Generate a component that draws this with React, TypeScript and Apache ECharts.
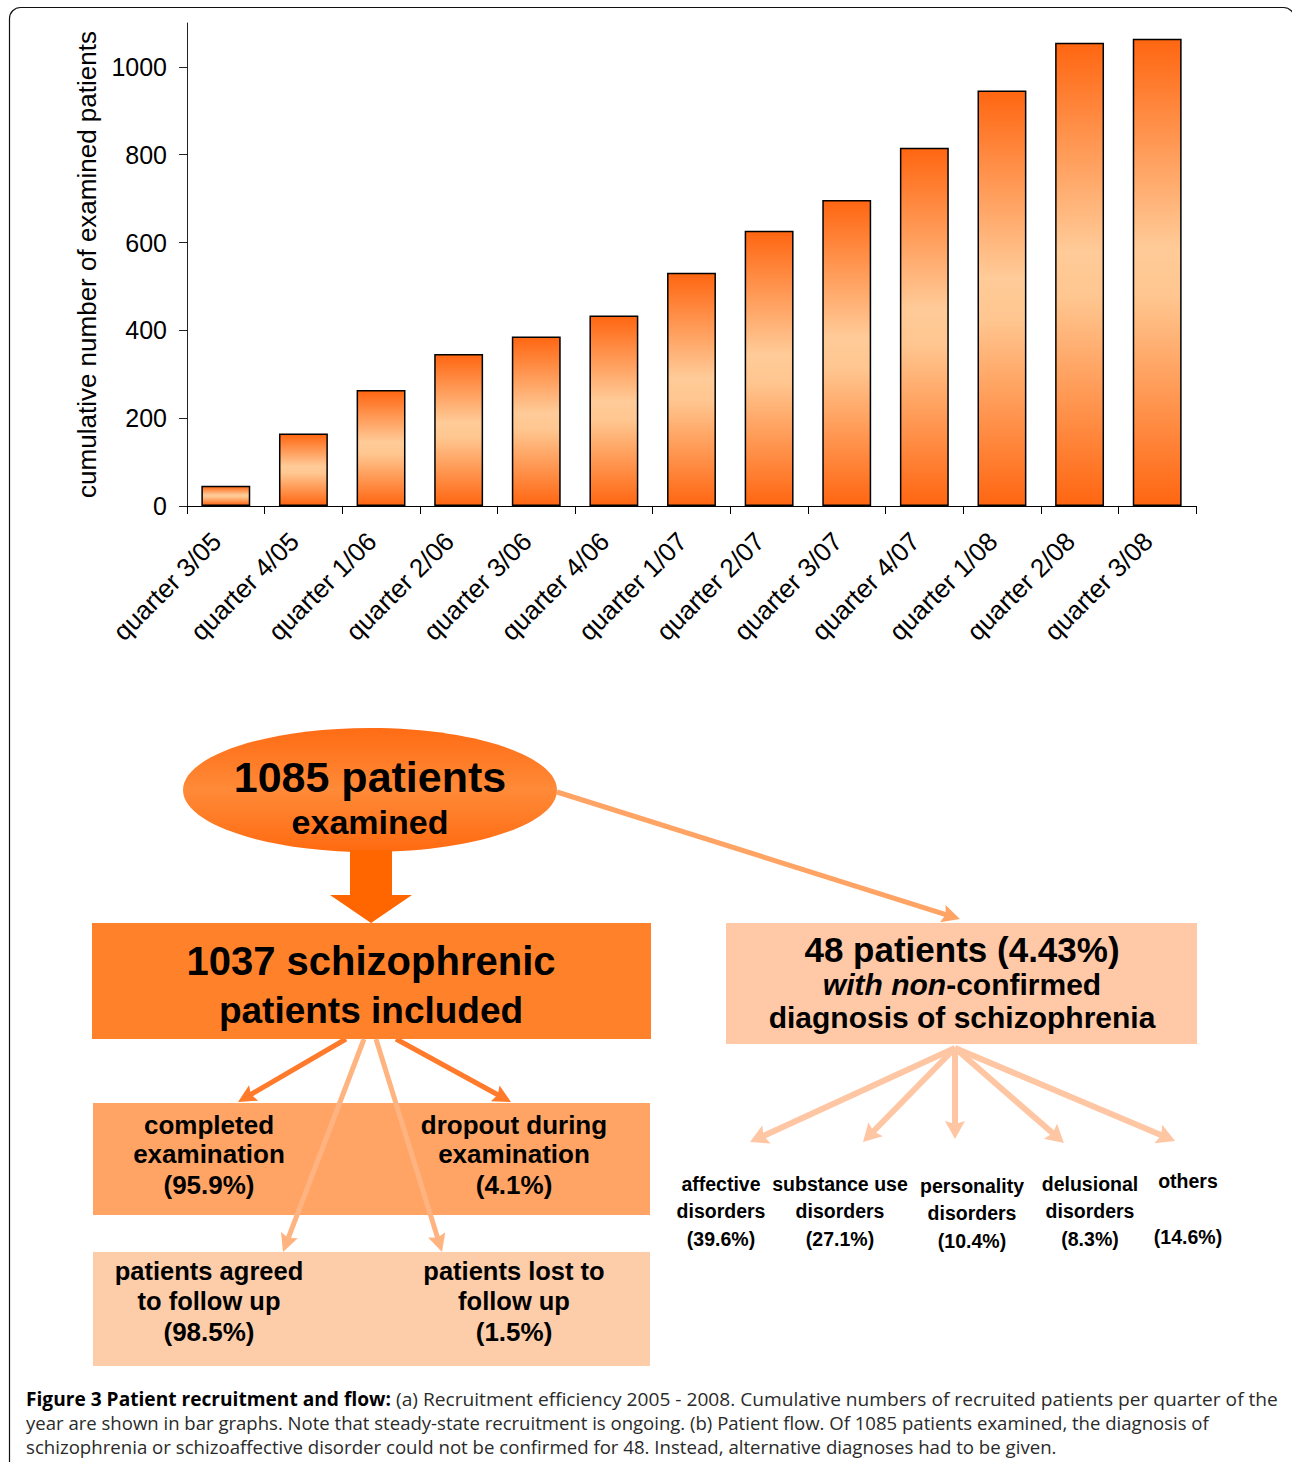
import React, { useEffect, useRef } from 'react';
import * as echarts from 'echarts';

// ---------- Data ----------
const categories = [
  'quarter 3/05', 'quarter 4/05', 'quarter 1/06', 'quarter 2/06', 'quarter 3/06', 'quarter 4/06',
  'quarter 1/07', 'quarter 2/07', 'quarter 3/07', 'quarter 4/07', 'quarter 1/08', 'quarter 2/08', 'quarter 3/08',
];
const cumulativePatients = [46, 165, 264, 346, 386, 434, 531, 627, 697, 816, 946, 1055, 1064];
const yTickValues = [0, 200, 400, 600, 800, 1000];
const yMax = 1100;
const yAxisName = 'cumulative number of examined patients';

const examinedLines = ['1085 patients', 'examined'];
const includedLines = ['1037 schizophrenic', 'patients included'];
const nonConfirmedTitle = '48 patients (4.43%)';
const nonConfirmedItalic = 'with non';
const nonConfirmedRest = '-confirmed';
const nonConfirmedLast = 'diagnosis of schizophrenia';
const outcomeLabels = [['completed', 'examination'], ['dropout during', 'examination']];
const outcomePcts = ['95.9%', '4.1%'];
const followUpLabels = [['patients agreed', 'to follow up'], ['patients lost to', 'follow up']];
const followUpPcts = ['98.5%', '1.5%'];
const diagnosisLabels = [
  ['affective', 'disorders'], ['substance use', 'disorders'], ['personality', 'disorders'],
  ['delusional', 'disorders'], ['others', ''],
];
const diagnosisPcts = ['39.6%', '27.1%', '10.4%', '8.3%', '14.6%'];
const captionBold = 'Figure 3 Patient recruitment and flow:';
const captionLines = [
  ' (a) Recruitment efficiency 2005 - 2008. Cumulative numbers of recruited patients per quarter of the',
  'year are shown in bar graphs. Note that steady-state recruitment is ongoing. (b) Patient flow. Of 1085 patients examined, the diagnosis of',
  'schizophrenia or schizoaffective disorder could not be confirmed for 48. Instead, alternative diagnoses had to be given.',
];

// ---------- Helpers ----------
const ARIAL = '"Liberation Sans", Arial, Helvetica, sans-serif';

function txt(x: number, y: number, text: string, size: number, extra: any = {}) {
  return {
    type: 'text',
    x,
    y,
    silent: true,
    style: {
      text,
      x: 0,
      y: 0,
      fill: '#000',
      font: `bold ${size}px ${ARIAL}`,
      textAlign: 'center',
      textVerticalAlign: 'middle',
      ...extra,
    },
  };
}

function arrow(x1: number, y1: number, x2: number, y2: number, color: string, lw: number, headLen = 18, headW = 9) {
  const dx = x2 - x1;
  const dy = y2 - y1;
  const len = Math.sqrt(dx * dx + dy * dy);
  const ux = dx / len;
  const uy = dy / len;
  const px = -uy;
  const py = ux;
  const bx = x2 - ux * headLen;
  const by = y2 - uy * headLen;
  const notch = 3;
  return [
    {
      type: 'line',
      silent: true,
      shape: { x1, y1, x2: bx + ux * 4, y2: by + uy * 4 },
      style: { stroke: color, lineWidth: lw },
    },
    {
      type: 'polygon',
      silent: true,
      shape: {
        points: [
          [x2, y2],
          [bx + px * headW, by + py * headW],
          [bx + ux * notch, by + uy * notch],
          [bx - px * headW, by - py * headW],
        ],
      },
      style: { fill: color },
    },
  ];
}

function buildGraphics() {
  const els: any[] = [];
  // frame
  els.push({
    type: 'rect',
    silent: true,
    shape: { x: 9.5, y: 7.5, width: 1285, height: 1520, r: [11, 11, 0, 0] },
    style: { fill: 'none', stroke: '#111', lineWidth: 1.2 },
  });

  // arrow from ellipse to non-confirmed box
  els.push(...arrow(557, 792, 960, 919, '#FFA465', 5));

  // ellipse
  els.push({
    type: 'ellipse',
    silent: true,
    shape: { cx: 370, cy: 790, rx: 187, ry: 62 },
    style: {
      fill: new echarts.graphic.LinearGradient(0, 0, 0, 1, [
        { offset: 0, color: '#FF6C14' },
        { offset: 0.5, color: '#FF8A38' },
        { offset: 1, color: '#FF6A10' },
      ]),
    },
  });
  els.push(txt(370, 777, examinedLines[0], 43));
  els.push(txt(370, 822, examinedLines[1], 34));

  // big down arrow
  els.push({
    type: 'polygon',
    silent: true,
    shape: {
      points: [[350, 850], [392, 850], [392, 895], [412, 895], [371, 923], [330, 895], [350, 895]],
    },
    style: { fill: '#FF6600' },
  });

  // arrows from box1
  els.push(...arrow(346, 1039, 238, 1102, '#FF7A2A', 5));
  els.push(...arrow(396, 1039, 511, 1102, '#FF7A2A', 5));

  // box 1
  els.push({ type: 'rect', silent: true, shape: { x: 92, y: 923, width: 559, height: 116 }, style: { fill: '#FF822A' } });
  els.push(txt(371, 961, includedLines[0], 40));
  els.push(txt(371, 1010, includedLines[1], 37));

  // box 3 (examination outcome)
  els.push({ type: 'rect', silent: true, shape: { x: 93, y: 1103, width: 557, height: 112 }, style: { fill: '#FFA465' } });
  const outX = [209, 514];
  outcomeLabels.forEach((lines, i) => {
    els.push(txt(outX[i], 1125, lines[0], 26));
    els.push(txt(outX[i], 1154, lines[1], 26));
    els.push(txt(outX[i], 1185, `(${outcomePcts[i]})`, 26));
  });

  // box 4 (follow up)
  els.push({ type: 'rect', silent: true, shape: { x: 93, y: 1252, width: 557, height: 114 }, style: { fill: '#FDCDAA' } });
  followUpLabels.forEach((lines, i) => {
    els.push(txt(outX[i], 1271, lines[0], 25.5));
    els.push(txt(outX[i], 1300.5, lines[1], 25.5));
    els.push(txt(outX[i], 1332, `(${followUpPcts[i]})`, 26));
  });

  // light arrows over box 3
  els.push(...arrow(364, 1039, 283, 1252, '#FFB380', 5));
  els.push(...arrow(376, 1039, 442, 1252, '#FFB380', 5));

  // box 2
  els.push({ type: 'rect', silent: true, shape: { x: 726, y: 923, width: 471, height: 121 }, style: { fill: '#FFC8A6' } });
  els.push(txt(962, 949, nonConfirmedTitle, 35));
  els.push(
    txt(962, 984, `{i|${nonConfirmedItalic}}{b|${nonConfirmedRest}}`, 30, {
      rich: {
        i: { fontStyle: 'italic', fontWeight: 'bold', fontSize: 30, fontFamily: ARIAL, fill: '#000' },
        b: { fontWeight: 'bold', fontSize: 30, fontFamily: ARIAL, fill: '#000' },
      },
    }),
  );
  els.push(txt(962, 1017, nonConfirmedLast, 30));

  // diagnosis arrows
  const targets = [[750, 1142], [863, 1142], [955, 1139], [1064, 1143], [1175, 1141]];
  targets.forEach(([tx, ty]) => els.push(...arrow(955, 1048, tx, ty, '#FFC6A3', 6, 18, 10)));

  const diagX = [721, 840, 972, 1090, 1188];
  const diagY = [
    [1184, 1211, 1239],
    [1184, 1211, 1239],
    [1186, 1213, 1241],
    [1184, 1211, 1239],
    [1181, 1209, 1237],
  ];
  diagnosisLabels.forEach((lines, i) => {
    if (lines[0]) els.push(txt(diagX[i], diagY[i][0], lines[0], 19.5));
    if (lines[1]) els.push(txt(diagX[i], diagY[i][1], lines[1], 19.5));
    els.push(txt(diagX[i], diagY[i][2], `(${diagnosisPcts[i]})`, 19.5));
  });

  // caption
  const capFont = '"Open Sans", "Noto Sans", sans-serif';
  const capY = [1399, 1423, 1447];
  const capScales = [1.008, 0.977, 0.981];
  els.push({
    type: 'text',
    silent: true,
    x: 26,
    y: capY[0],
    scaleX: capScales[0],
    style: {
      text: `{b|${captionBold}}{n|${captionLines[0]}}`,
      x: 0,
      y: 0,
      textAlign: 'left',
      textVerticalAlign: 'middle',
      fill: '#222',
      rich: {
        b: { fontWeight: 'bold', fontSize: 19, fontFamily: capFont, fill: '#000' },
        n: { fontSize: 19, fontFamily: capFont, fill: '#2a2a2a' },
      },
    },
  });
  for (let i = 1; i < captionLines.length; i++) {
    els.push({
      type: 'text',
      silent: true,
      x: 26,
      y: capY[i],
      scaleX: capScales[i],
      style: {
        text: captionLines[i],
        x: 0,
        y: 0,
        textAlign: 'left',
        textVerticalAlign: 'middle',
        fill: '#2a2a2a',
        font: `19px ${capFont}`,
      },
    });
  }
  return els;
}

export default function App() {
  const ref = useRef<HTMLDivElement>(null);
  useEffect(() => {
    if (!ref.current) return;
    const chart = echarts.init(ref.current, null, { renderer: 'svg' });
    const barGradient = new echarts.graphic.LinearGradient(0, 0, 0, 1, [
      { offset: 0, color: '#FF6611' },
      { offset: 0.45, color: '#FFCB98' },
      { offset: 0.55, color: '#FFC690' },
      { offset: 1, color: '#FF6611' },
    ]);
    const option: any = {
      animation: false,
      backgroundColor: '#fff',
      grid: { left: 187, right: 96, top: 23, bottom: 956, containLabel: false },
      xAxis: {
        type: 'category',
        data: categories,
        axisLine: { lineStyle: { color: '#000', width: 1 } },
        axisTick: { show: true, length: 8, lineStyle: { color: '#000' } },
        axisLabel: {
          rotate: 45,
          margin: 40,
          interval: 0,
          verticalAlign: 'bottom',
          fontSize: 26,
          fontFamily: ARIAL,
          color: '#000',
        },
      },
      yAxis: {
        type: 'value',
        min: 0,
        max: yMax,
        interval: 200,
        name: yAxisName,
        nameLocation: 'middle',
        nameGap: 69,
        nameTextStyle: { fontSize: 26, fontFamily: ARIAL, color: '#000' },
        axisLine: { show: true, lineStyle: { color: '#222', width: 1 } },
        axisTick: { show: true, length: 8, customValues: yTickValues, lineStyle: { color: '#222' } },
        axisLabel: {
          customValues: yTickValues,
          formatter: (v: number) => String(v),
          fontSize: 25,
          margin: 20,
          fontFamily: ARIAL,
          color: '#000',
        },
        splitLine: { show: false },
      },
      series: [
        {
          type: 'bar',
          data: cumulativePatients,
          barWidth: '63%',
          itemStyle: { color: barGradient, borderColor: '#000', borderWidth: 1.5 },
        },
      ],
      graphic: { elements: buildGraphics() },
    };
    chart.setOption(option);
    return () => chart.dispose();
  }, []);
  return <div ref={ref} style={{ position: 'absolute', left: 0, top: 0, width: 1292, height: 1462 }} />;
}
